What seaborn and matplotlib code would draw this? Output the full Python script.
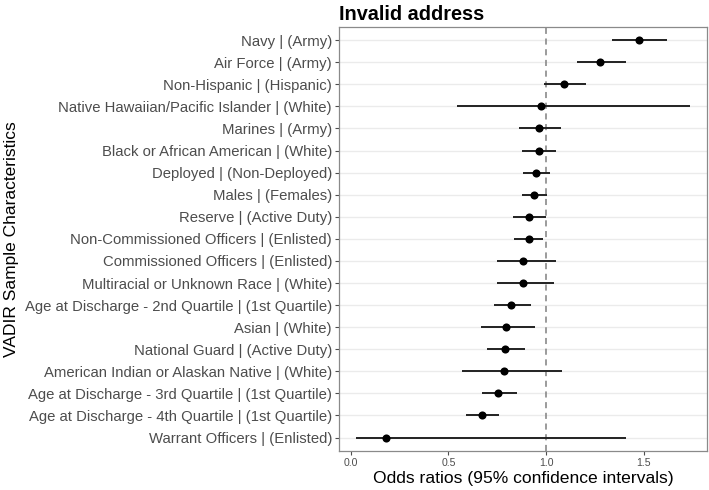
import pandas as pd
import seaborn as sns
import matplotlib.pyplot as plt

labels = [
    "Navy | (Army)",
    "Air Force | (Army)",
    "Non-Hispanic | (Hispanic)",
    "Native Hawaiian/Pacific Islander | (White)",
    "Marines | (Army)",
    "Black or African American | (White)",
    "Deployed | (Non-Deployed)",
    "Males | (Females)",
    "Reserve | (Active Duty)",
    "Non-Commissioned Officers | (Enlisted)",
    "Commissioned Officers | (Enlisted)",
    "Multiracial or Unknown Race | (White)",
    "Age at Discharge - 2nd Quartile | (1st Quartile)",
    "Asian | (White)",
    "National Guard | (Active Duty)",
    "American Indian or Alaskan Native | (White)",
    "Age at Discharge - 3rd Quartile | (1st Quartile)",
    "Age at Discharge - 4th Quartile | (1st Quartile)",
    "Warrant Officers | (Enlisted)",
]
odds = [1.473, 1.278, 1.091, 0.975, 0.961, 0.961, 0.949, 0.937, 0.910, 0.910,
        0.882, 0.882, 0.821, 0.794, 0.787, 0.782, 0.754, 0.671, 0.181]
ci_low = [1.338, 1.156, 0.990, 0.546, 0.860, 0.879, 0.883, 0.874, 0.831, 0.838,
          0.746, 0.751, 0.732, 0.667, 0.696, 0.570, 0.671, 0.592, 0.024]
ci_high = [1.621, 1.411, 1.203, 1.739, 1.074, 1.051, 1.022, 1.002, 0.997, 0.985,
           1.048, 1.038, 0.920, 0.944, 0.893, 1.080, 0.852, 0.759, 1.410]

df = pd.DataFrame({"label": labels, "or": odds, "lo": ci_low, "hi": ci_high})

sns.set_theme(style="whitegrid")
plt.rcParams['font.family'] = ['Liberation Sans', 'DejaVu Sans']

fig = plt.figure(figsize=(7.09, 4.90), dpi=100)
ax = fig.add_axes([0.478, 0.080, 0.519, 0.865])

ax.axvline(1.0, color="#808080", linestyle=(0, (4, 3)), linewidth=1.1, zorder=1)
ax.hlines(df["label"], df["lo"], df["hi"], color="#222222", linewidth=1.4, zorder=2)
sns.scatterplot(data=df, x="or", y="label", color="black", s=34,
                edgecolor="black", linewidth=0, ax=ax, zorder=3)

ax.set_ylim(len(labels) - 0.4, -0.6)
ax.set_xlim(-0.061, 1.823)
ax.set_xticks([0.0, 0.5, 1.0, 1.5])
ax.set_xticklabels(["0.0", "0.5", "1.0", "1.5"])

ax.grid(axis="x", visible=False)
ax.grid(axis="y", color="#EBEBEB", linewidth=1.0)
for s in ax.spines.values():
    s.set_color("#8A8A8A")
    s.set_linewidth(0.9)

ax.tick_params(axis="y", labelsize=10.7, labelcolor="#4D4D4D", length=3,
               color="#4D4D4D", width=0.8, left=True, pad=2)
ax.tick_params(axis="x", labelsize=7.6, labelcolor="#4D4D4D", length=3,
               color="#4D4D4D", width=0.8, bottom=True, pad=2)

ax.set_xlabel("Odds ratios (95% confidence intervals)", fontsize=12.6,
              color="black", labelpad=2)
ax.set_ylabel("VADIR Sample Characteristics", fontsize=12.5, color="black",
              labelpad=4)
ax.set_title("Invalid address", fontsize=14.3, fontweight="bold", loc="left",
             color="black", pad=5)

fig.savefig("out.png", dpi=100)
